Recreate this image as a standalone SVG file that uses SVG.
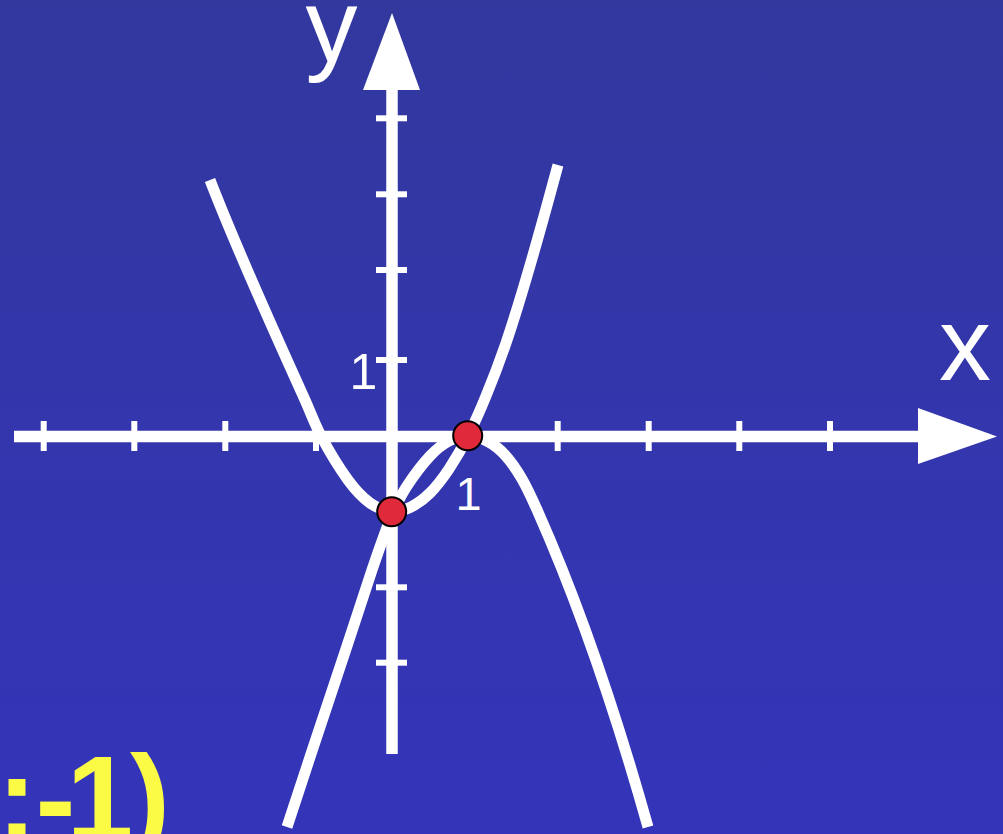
<svg xmlns="http://www.w3.org/2000/svg" width="1003" height="834" viewBox="0 0 1003 834">
  <defs>
    <linearGradient id="bg" x1="0" y1="0" x2="0" y2="1">
      <stop offset="0" stop-color="#32389e"/>
      <stop offset="1" stop-color="#3434ba"/>
    </linearGradient>
    <style>
      .axis{stroke:#ffffff;stroke-width:11.5;fill:none;stroke-linecap:butt}
      .tick{stroke:#ffffff;stroke-width:6;fill:none}
      .curve{stroke:#ffffff;stroke-width:11;fill:none;stroke-linecap:butt;stroke-linejoin:round}
      .head{fill:#ffffff}
      .dot{fill:#e0293b;stroke:#000000;stroke-width:2}
      text{font-family:"Liberation Sans",Arial,sans-serif}
    </style>
  </defs>
  <rect x="0" y="0" width="1003" height="834" fill="url(#bg)"/>

  <g id="axes">
    <line class="axis" x1="14" y1="436.5" x2="920" y2="436.5"/>
    <polygon class="head" points="918,408 997,436.5 918,464"/>
    <line class="axis" x1="392" y1="754" x2="392" y2="88"/>
    <polygon class="head" points="363,90 392,13 420,90"/>
    <g id="x-ticks">
      <line class="tick" x1="43.7" y1="421" x2="43.7" y2="451"/>
      <line class="tick" x1="134.3" y1="421" x2="134.3" y2="451"/>
      <line class="tick" x1="225.3" y1="421" x2="225.3" y2="451"/>
      <line class="tick" x1="316" y1="421" x2="316" y2="451"/>
      <line class="tick" x1="557.7" y1="421" x2="557.7" y2="451"/>
      <line class="tick" x1="648.7" y1="421" x2="648.7" y2="451"/>
      <line class="tick" x1="739.3" y1="421" x2="739.3" y2="451"/>
      <line class="tick" x1="830" y1="421" x2="830" y2="451"/>
    </g>
    <g id="y-ticks">
      <line class="tick" x1="376" y1="118.3" x2="407" y2="118.3"/>
      <line class="tick" x1="376" y1="194.3" x2="407" y2="194.3"/>
      <line class="tick" x1="376" y1="270" x2="407" y2="270"/>
      <line class="tick" x1="376" y1="360" x2="407" y2="360"/>
      <line class="tick" x1="376" y1="587.3" x2="407" y2="587.3"/>
      <line class="tick" x1="376" y1="662.7" x2="407" y2="662.7"/>
    </g>
  </g>

  <g id="connectors">
    <path id="curve-up" class="curve" d="M210,180 C238.8,254.5 272.2,327.1 305,400 C310.4,411.9 314.8,424.5 321,436 C329.1,451.2 337.9,466.1 348,480 C354.3,488.6 361.4,496.8 370,503 C376.4,507.6 384.1,510.7 392,511.5 C398.5,512.1 405.2,509.8 411,507 C418.1,503.5 424.4,498.6 430,493 C437.2,485.8 443.3,477.5 449,469 C456,458.4 462.3,447.3 468,436 C474.6,423 480.5,409.5 486,396 C492.8,379.5 499.2,362.8 505,346 C525.4,286.6 541.5,225.7 558,165"/>
    <path id="curve-down" class="curve" d="M287,827 C297.3,795.6 307.6,764.3 318,733 C327.6,704 337.4,675 347,646 C355.4,620.7 363.5,595.3 372,570 C376.2,557.6 380.5,545.3 385,533 C387.6,526 389.8,518.8 393,512 C397.2,503.1 401.6,494.2 407,486 C413.9,475.5 421.4,465.2 430,456 C435.5,450.1 441.8,444.8 449,441 C454.8,438 461.5,436 468,436 C474.5,436 481.2,438 487,441 C493.8,444.5 499.9,449.4 505,455 C511.6,462.2 517.1,470.5 522,479 C528.1,489.6 533,500.8 538,512 C583,613.5 618,720.4 648,827"/>
  </g>

  <g id="point-a">
    <circle class="dot" cx="391.7" cy="511.7" r="14.5"/>
  </g>
  <g id="point-b">
    <circle class="dot" cx="467.7" cy="435.7" r="14.5"/>
  </g>

  <g id="labels" fill="#ffffff">
    <text x="305.5" y="61" font-size="104">y</text>
    <text x="939" y="380" font-size="104">x</text>
    <text x="349.5" y="389" font-size="50">1</text>
    <text x="455.6" y="510" font-size="47">1</text>
  </g>
  <g id="answer" fill="#fbfb45">
    <text font-weight="bold" x="-3 35.5 66.6 130" y="840" font-size="120">:-1)</text>
  </g>
</svg>
